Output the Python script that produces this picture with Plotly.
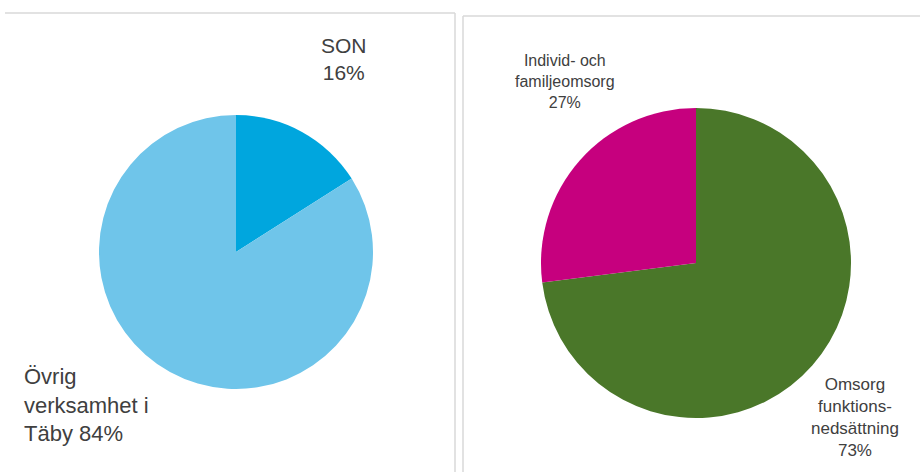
import plotly.graph_objects as go

# Left pie data
left_labels = ["SON", "Övrig verksamhet i Täby"]
left_values = [16, 84]
left_colors = ["#00a6de", "#6fc5ea"]

# Right pie data
right_labels = ["Omsorg funktions-nedsättning", "Individ- och familjeomsorg"]
right_values = [73, 27]
right_colors = ["#4a7729", "#c6007e"]

W, H = 920, 472

def px_x(x):
    return x / W

def px_y(y):
    return 1 - y / H

fig = go.Figure()

fig.add_trace(go.Pie(
    labels=left_labels, values=left_values, sort=False, direction="clockwise",
    rotation=0, marker=dict(colors=left_colors, line=dict(width=0)),
    textinfo="none", hoverinfo="label+percent", showlegend=False,
    domain=dict(x=[px_x(99), px_x(373)], y=[px_y(389), px_y(115)]),
))

fig.add_trace(go.Pie(
    labels=right_labels, values=right_values, sort=False, direction="clockwise",
    rotation=0, marker=dict(colors=right_colors, line=dict(width=0)),
    textinfo="none", hoverinfo="label+percent", showlegend=False,
    domain=dict(x=[px_x(541), px_x(851)], y=[px_y(418), px_y(108)]),
))

txt = "#404040"
fnt = "Liberation Sans, Arial, sans-serif"

annots = [
    dict(x=px_x(344), y=px_y(59), text=f"{left_labels[0]}<br>{left_values[0]}%",
         align="center", xanchor="center", yanchor="middle", size=21),
    dict(x=px_x(22), y=px_y(405), text=f"Övrig<br>verksamhet i<br>Täby {left_values[1]}%",
         align="left", xanchor="left", yanchor="middle", size=22),
    dict(x=px_x(565), y=px_y(82), text=f"Individ- och<br>familjeomsorg<br>{right_values[1]}%",
         align="center", xanchor="center", yanchor="middle", size=16),
    dict(x=px_x(855), y=px_y(417), text=f"Omsorg<br>funktions-<br>nedsättning<br>{right_values[0]}%",
         align="center", xanchor="center", yanchor="middle", size=17),
]

fig.update_layout(
    width=W, height=H, margin=dict(l=0, r=0, t=0, b=0),
    paper_bgcolor="white", plot_bgcolor="white",
    annotations=[dict(xref="paper", yref="paper", x=a["x"], y=a["y"], text=a["text"],
                      showarrow=False, align=a["align"], xanchor=a["xanchor"],
                      yanchor=a["yanchor"], font=dict(family=fnt, size=a["size"], color=txt))
                 for a in annots],
    shapes=[
        dict(type="line", xref="paper", yref="paper", x0=px_x(5), x1=px_x(455), y0=px_y(13), y1=px_y(13),
             line=dict(color="#d9d9d9", width=1.5)),
        dict(type="line", xref="paper", yref="paper", x0=px_x(455), x1=px_x(455), y0=px_y(13), y1=px_y(480),
             line=dict(color="#d9d9d9", width=1.5)),
        dict(type="line", xref="paper", yref="paper", x0=px_x(463), x1=px_x(925), y0=px_y(16), y1=px_y(16),
             line=dict(color="#d9d9d9", width=1.5)),
        dict(type="line", xref="paper", yref="paper", x0=px_x(463), x1=px_x(463), y0=px_y(16), y1=px_y(480),
             line=dict(color="#d9d9d9", width=1.5)),
    ],
)

fig.write_html("out.html", config={"displayModeBar": False},
               post_script="document.body.style.margin='0';document.body.style.overflow='hidden';")
